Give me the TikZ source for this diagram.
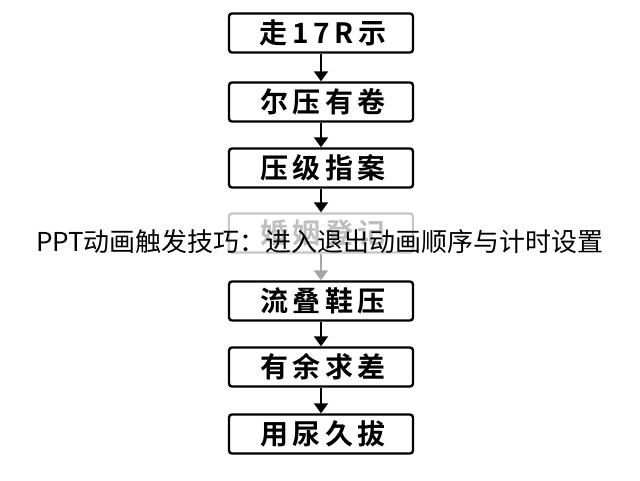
\documentclass[tikz,border=0pt]{standalone}
\usepackage{fontspec}
\newfontfamily\cjk{Noto Sans CJK SC}
\newfontfamily\cjkb[LetterSpace=16]{Noto Sans CJK SC Bold}
\usetikzlibrary{arrows.meta}
\begin{document}
\begin{tikzpicture}[x=1pt,y=-1pt,
  stepbox/.style={draw=black,line width=2.4pt,rounded corners=3pt,minimum width=184pt,minimum height=39pt,inner sep=0pt,font=\cjkb\fontsize{28}{28}\selectfont},
  fadedbox/.style={stepbox,draw=black!22,text=black!25},
  conn/.style={line width=2pt,-{Triangle[length=10pt,width=14pt]}},
  fadedconn/.style={conn,draw=black!35,fill=black!35}]
\useasboundingbox (0,0) rectangle (640,480);
\fill[white] (0,0) rectangle (640,480);
\node[stepbox] (b1) at (321,33) {\hspace{4pt}走17R示};
\node[stepbox] (b2) at (321,102) {\hspace{4pt}尔压有卷};
\node[stepbox] (b3) at (321,168) {\hspace{4pt}压级指案};
\node[fadedbox] (b4) at (321,233) {\hspace{4pt}婚姻登记};
\node[stepbox] (b5) at (321,301) {\hspace{4pt}流叠鞋压};
\node[stepbox] (b6) at (321,367) {\hspace{4pt}有余求差};
\node[stepbox] (b7) at (321,434) {\hspace{4pt}用尿久拔};
\draw[conn] (b1) -- (b2);
\draw[conn] (b2) -- (b3);
\draw[conn] (b3) -- (b4);
\draw[fadedconn] (b4) -- (b5);
\draw[conn] (b5) -- (b6);
\draw[conn] (b6) -- (b7);
\node[font=\cjk\fontsize{26}{26}\selectfont,inner sep=0pt] (title) at (320,242) {PPT动画触发技巧：进入退出动画顺序与计时设置};
\end{tikzpicture}
\end{document}
